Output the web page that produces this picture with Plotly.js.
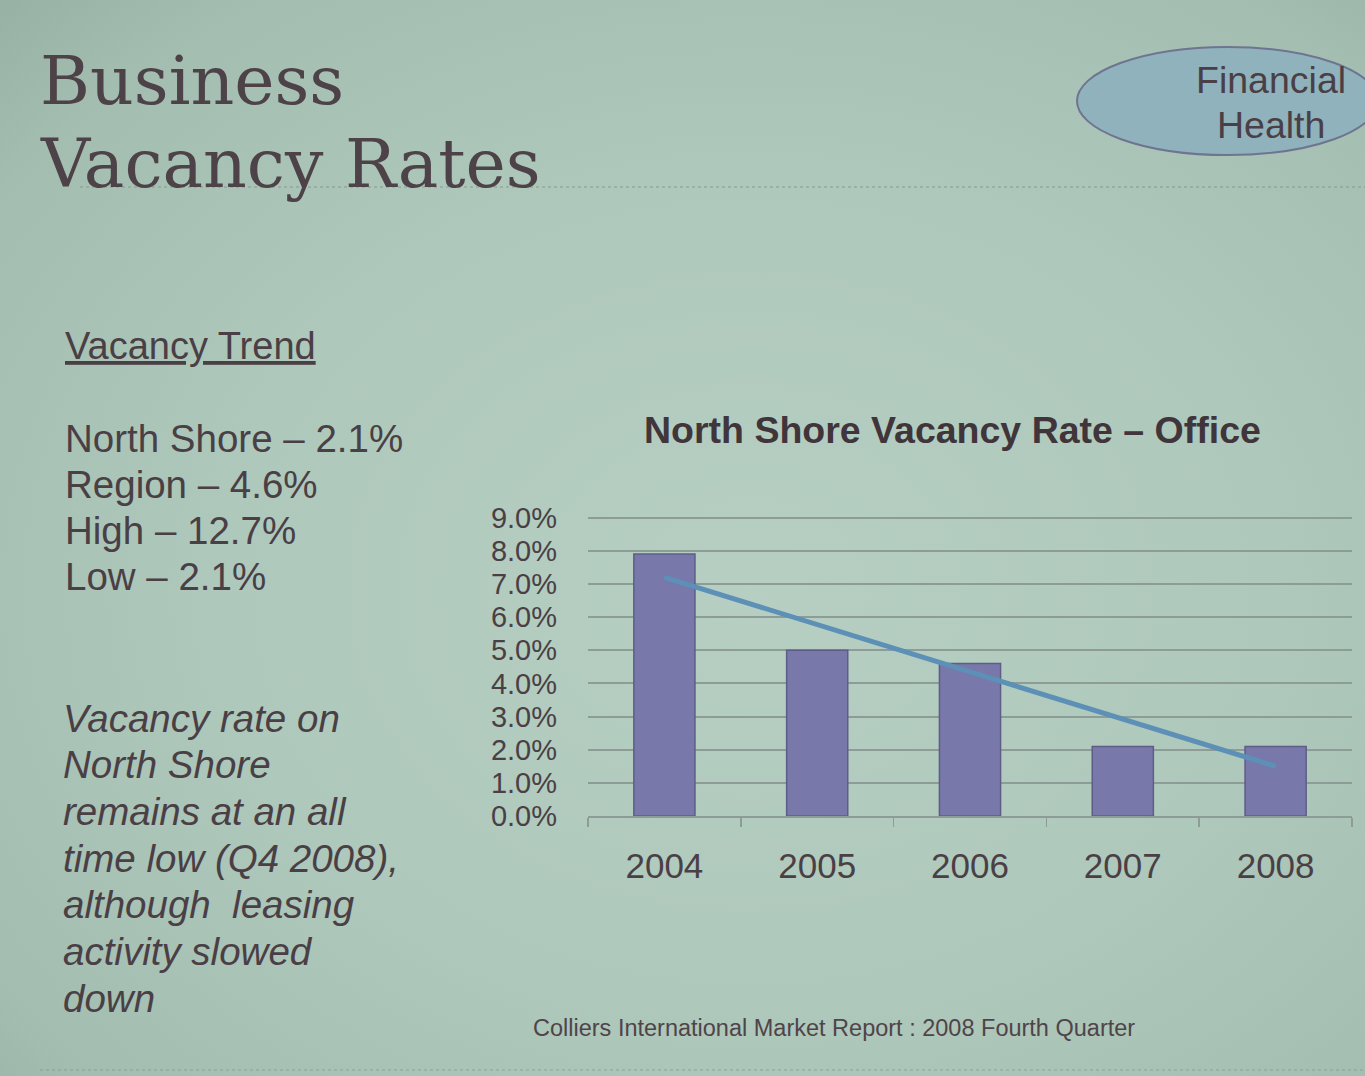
<!DOCTYPE html>
<html>
<head>
<meta charset="utf-8">
<script src="https://cdn.plot.ly/plotly-3.0.1.min.js"></script>
<style>
html,body{margin:0;padding:0;}
body{width:1365px;height:1076px;overflow:hidden;
background: radial-gradient(ellipse at 55% 55%, #b6cfc2 0%, #aec8bb 50%, #a3bdb0 85%, #97b1a4 100%);}
#chart{width:1365px;height:1076px;}
</style>
</head>
<body>
<div id="chart"></div>
<script>
// ---- data ----
var years = ['2004', '2005', '2006', '2007', '2008'];
var vacancyRate = [0.079, 0.050, 0.046, 0.021, 0.021];
var trendYears = ['2004', '2008'];
var trendRate = [0.072, 0.015];
var yTickVals = [0, 0.01, 0.02, 0.03, 0.04, 0.05, 0.06, 0.07, 0.08, 0.09];

var slideTitle = ['Business', 'Vacancy Rates'];
var chartTitle = 'North Shore Vacancy Rate \u2013 Office';
var badgeLines = ['Financial', 'Health'];
var trendHeading = 'Vacancy Trend';
var trendLines = ['North Shore \u2013 2.1%', 'Region \u2013 4.6%', 'High \u2013 12.7%', 'Low \u2013 2.1%'];
var noteLines = ['Vacancy rate on', 'North Shore', 'remains at an all', 'time low (Q4 2008),', 'although  leasing', 'activity slowed', 'down'];
var sourceText = 'Colliers International Market Report : 2008 Fourth Quarter';

// ---- layout helpers ----
var W = 1365, H = 1076;
function px(x){ return x / W; }
function py(y){ return 1 - y / H; }
var textColor = '#4a3f45';
var sans = 'Liberation Sans, Arial, sans-serif';

var annotations = [];
function addText(t, x, y, size, opts){
  opts = opts || {};
  annotations.push({
    xref: 'paper', yref: 'paper', x: px(x), y: py(y),
    text: t, showarrow: false,
    xanchor: opts.xanchor || 'left', yanchor: 'middle',
    font: {family: opts.family || sans, size: size, color: opts.color || textColor}
  });
}

slideTitle.forEach(function(t, i){
  addText(t, 38, 80 + i * 84, 68, {family: 'DejaVu Serif, Liberation Serif, serif', color: '#4d4247'});
});
addText('<b>' + chartTitle + '</b>', 952, 430, 37.5, {xanchor: 'center', color: '#3f353b'});
badgeLines.forEach(function(t, i){
  addText(t, 1271, 80 + i * 45, 37.5, {xanchor: 'center'});
});
addText('<u>' + trendHeading + '</u>', 63, 346, 38);
trendLines.forEach(function(t, i){
  addText(t, 63, 438 + i * 46.3, 38.5);
});
noteLines.forEach(function(t, i){
  addText('<i>' + t + '</i>', 61, 718 + i * 46.7, 38.5);
});
addText(sourceText, 834, 1028, 23.5, {xanchor: 'center', color: '#504449'});

var shapes = [
  {type: 'circle', xref: 'paper', yref: 'paper',
   x0: px(1077), x1: px(1378), y0: py(155), y1: py(47),
   fillcolor: '#8fb2bd', line: {color: '#6f7490', width: 2}, layer: 'below'},
  {type: 'line', xref: 'paper', yref: 'paper',
   x0: px(80), x1: px(1365), y0: py(187), y1: py(187),
   line: {color: 'rgba(130,150,145,0.6)', width: 1.5, dash: 'dot'}, layer: 'below'},
  {type: 'line', xref: 'paper', yref: 'paper',
   x0: px(40), x1: px(1365), y0: py(1070), y1: py(1070),
   line: {color: 'rgba(130,150,145,0.5)', width: 1.5, dash: 'dot'}, layer: 'below'}
];

var data = [
  {type: 'bar', x: years, y: vacancyRate, width: 0.4,
   marker: {color: '#7878ab', line: {color: '#5e5d88', width: 1.5}},
   hoverinfo: 'x+y'},
  {type: 'scatter', mode: 'lines', x: trendYears, y: trendRate,
   line: {color: '#5d90b6', width: 5}, hoverinfo: 'skip'}
];

var layout = {
  width: W, height: H,
  margin: {l: 0, r: 0, t: 0, b: 0},
  paper_bgcolor: 'rgba(0,0,0,0)',
  plot_bgcolor: 'rgba(0,0,0,0)',
  showlegend: false,
  xaxis: {
    domain: [px(588), px(1352)],
    type: 'category',
    showgrid: false, zeroline: false,
    showline: true, linecolor: '#8e9c97', linewidth: 2,
    ticks: 'outside', tickson: 'boundaries', ticklen: 9, tickwidth: 1.5, tickcolor: '#8e9c97',
    ticklabelstandoff: 18,
    tickfont: {family: sans, size: 35, color: textColor}
  },
  yaxis: {
    domain: [py(816), py(516)],
    range: [0, 0.0905],
    tickvals: yTickVals, tickformat: '.1%',
    showgrid: true, gridcolor: '#8e9c97', gridwidth: 2,
    zeroline: false, showline: false, ticks: '',
    ticklabelstandoff: 30,
    tickfont: {family: sans, size: 29, color: textColor}
  },
  annotations: annotations,
  shapes: shapes
};

Plotly.newPlot('chart', data, layout, {displayModeBar: false, staticPlot: true});
</script>
</body>
</html>
